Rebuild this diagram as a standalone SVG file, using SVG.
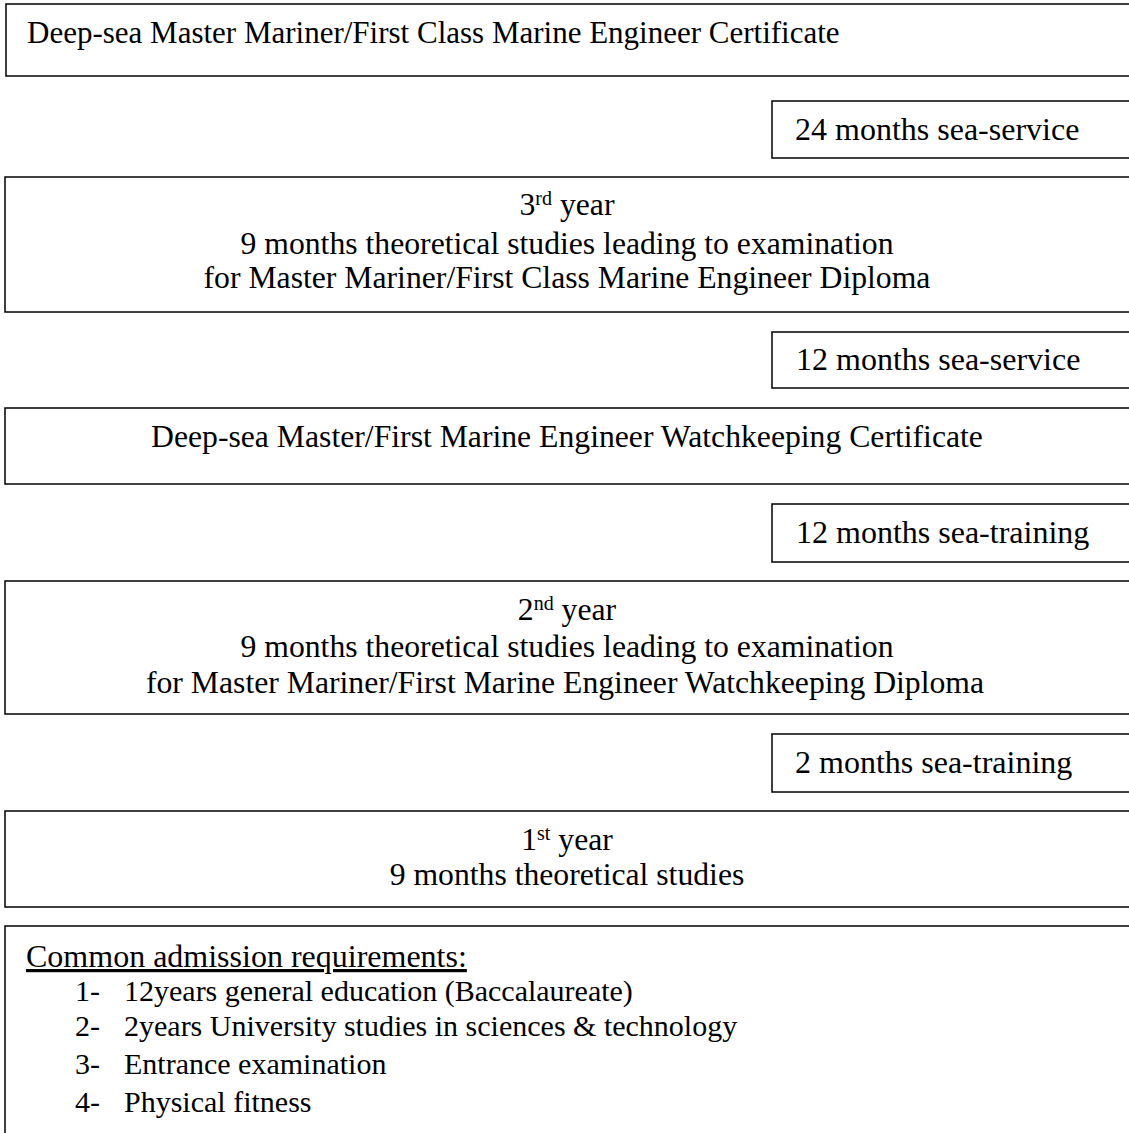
<svg xmlns="http://www.w3.org/2000/svg" width="1129" height="1133" viewBox="0 0 1129 1133">
<style>
.b{fill:#fff;stroke:#000;stroke-width:1.5}
text{font-family:"Liberation Serif","Times New Roman",serif;font-size:31.7px;fill:#000}
.c{text-anchor:middle}
.s{font-size:32px}
.l{font-size:30px}
.sup{font-size:20px}
</style>
<rect width="1129" height="1133" fill="#fff"/>
<g id="connectors"></g>
<g id="n1"><rect class="b" x="6" y="4" width="1130" height="72"/><text x="27" y="43" style="font-size:31px">Deep-sea Master Mariner/First Class Marine Engineer Certificate</text></g>
<g id="n2"><rect class="b" x="772" y="101" width="364" height="57"/><text class="s" x="795" y="140">24 months sea-service</text></g>
<g id="n3"><rect class="b" x="5" y="177" width="1131" height="135"/>
<text class="c" x="567" y="215">3<tspan class="sup" dy="-10">rd</tspan><tspan dy="10"> year</tspan></text>
<text class="c" x="567" y="254">9 months theoretical studies leading to examination</text>
<text class="c" x="567" y="288">for Master Mariner/First Class Marine Engineer Diploma</text></g>
<g id="n4"><rect class="b" x="772" y="332" width="364" height="56"/><text class="s" x="796" y="370">12 months sea-service</text></g>
<g id="n5"><rect class="b" x="5" y="408" width="1131" height="76"/><text class="c" x="567" y="447">Deep-sea Master/First Marine Engineer Watchkeeping Certificate</text></g>
<g id="n6"><rect class="b" x="772" y="504" width="364" height="58"/><text class="s" x="796" y="543">12 months sea-training</text></g>
<g id="n7"><rect class="b" x="5" y="581" width="1131" height="133"/>
<text class="c" x="567" y="620">2<tspan class="sup" dy="-10">nd</tspan><tspan dy="10"> year</tspan></text>
<text class="c" x="567" y="657">9 months theoretical studies leading to examination</text>
<text class="c" x="565" y="693">for Master Mariner/First Marine Engineer Watchkeeping Diploma</text></g>
<g id="n8"><rect class="b" x="772" y="734" width="364" height="58"/><text class="s" x="795" y="773">2 months sea-training</text></g>
<g id="n9"><rect class="b" x="5" y="811" width="1131" height="96"/>
<text class="c" x="567" y="850">1<tspan class="sup" dy="-10">st</tspan><tspan dy="10"> year</tspan></text>
<text class="c" x="567" y="885">9 months theoretical studies</text></g>
<g id="n10"><rect class="b" x="5" y="926" width="1131" height="220"/>
<text class="s" x="26" y="967" text-decoration="underline">Common admission requirements:</text>
<text class="l" x="75" y="1001">1-</text><text class="l" x="124" y="1001">12years general education (Baccalaureate)</text>
<text class="l" x="75" y="1036">2-</text><text class="l" x="124" y="1036">2years University studies in sciences &amp; technology</text>
<text class="l" x="75" y="1074">3-</text><text class="l" x="124" y="1074">Entrance examination</text>
<text class="l" x="75" y="1112">4-</text><text class="l" x="124" y="1112">Physical fitness</text></g>
</svg>
